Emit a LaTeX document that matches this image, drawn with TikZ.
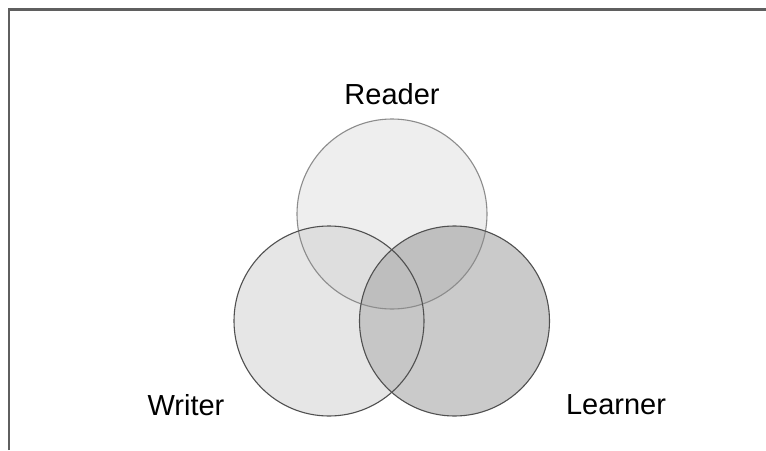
\documentclass[tikz,border=0pt]{standalone}
\usepackage{fontspec}
\setmainfont{Liberation Sans}
\begin{document}
\begin{tikzpicture}[x=1pt,y=-1pt,
  lbl/.style={font=\fontsize{29}{34}\selectfont, text=black, inner sep=0pt},
  ring/.style={line width=1.1pt}]
\useasboundingbox (0,0) rectangle (766,450);
\fill[white] (0,0) rectangle (766,450);
\coordinate (rc) at (392,214);
\coordinate (wc) at (329,321);
\coordinate (lc) at (454.5,321);
\def\rad{95}
% base fills
\fill[fill={rgb,255:red,238;green,238;blue,238}] (rc) circle (\rad);
\fill[fill={rgb,255:red,230;green,230;blue,230}] (wc) circle (\rad);
\fill[fill={rgb,255:red,202;green,202;blue,202}] (lc) circle (\rad);
% R & W
\begin{scope}
\clip (rc) circle (\rad);
\fill[fill={rgb,255:red,222;green,222;blue,222}] (wc) circle (\rad);
\fill[fill={rgb,255:red,191;green,191;blue,191}] (lc) circle (\rad);
\end{scope}
\begin{scope}
\clip (wc) circle (\rad);
\fill[fill={rgb,255:red,198;green,198;blue,198}] (lc) circle (\rad);
\clip (rc) circle (\rad);
\fill[fill={rgb,255:red,190;green,190;blue,190}] (lc) circle (\rad);
\end{scope}
% outlines
\draw[ring, draw={rgb,255:red,140;green,140;blue,140}] (rc) circle (\rad);
\draw[ring, draw={rgb,255:red,80;green,80;blue,80}] (wc) circle (\rad);
\draw[ring, draw={rgb,255:red,80;green,80;blue,80}] (lc) circle (\rad);
% frame
\coordinate (fb) at (9,450);
\coordinate (fc) at (9,9.5);
\coordinate (fr) at (766,9.5);
\draw[line width=2.4pt, draw={rgb,255:red,95;green,95;blue,95}] (fb) -- (fc) -- (fr);
% labels
\node[lbl] (reader) at (392,94) {Reader};
\node[lbl] (writer) at (186,405) {Writer};
\node[lbl] (learner) at (616,405) {Learner};
\end{tikzpicture}
\end{document}
